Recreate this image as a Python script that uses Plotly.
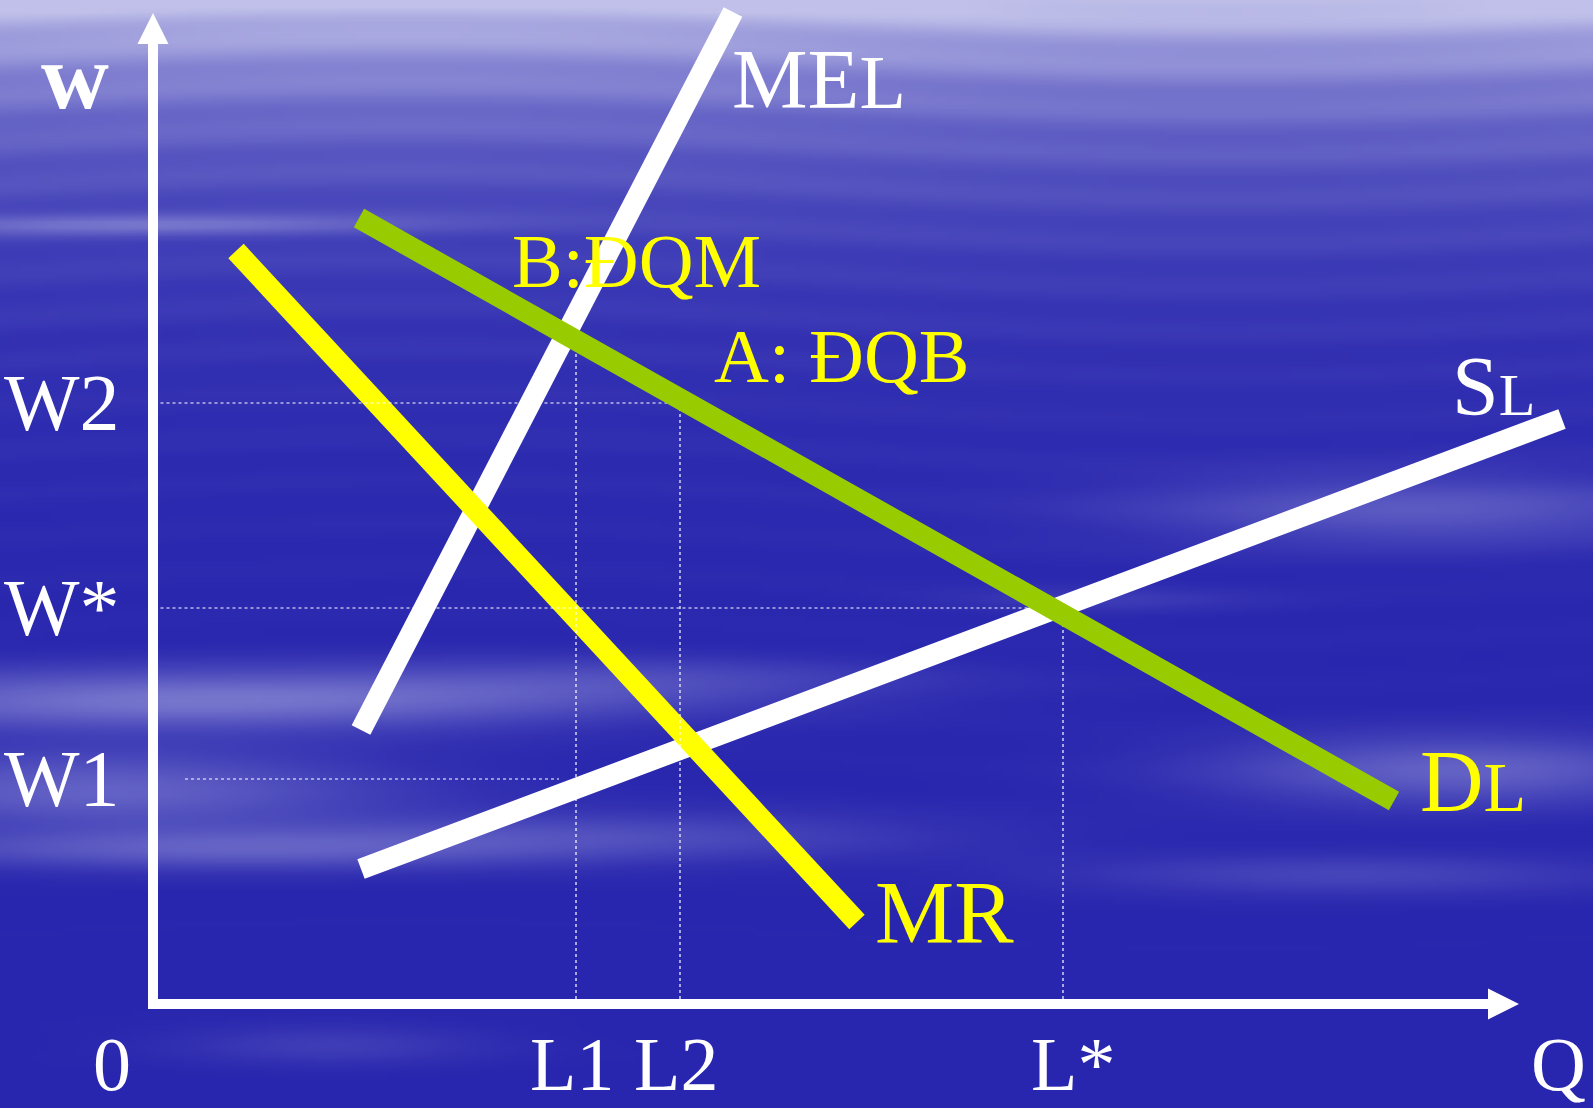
import base64
import math
import struct
import zlib

import plotly.graph_objects as go

# ---------------- data (Q on x, w on y; arbitrary units) ----------------
mel_q = [20.8, 58.0]
mel_w = [27.4, 99.2]
dl_q = [20.6, 124.1]
dl_w = [78.6, 20.3]
mr_q = [8.3, 70.4]
mr_w = [75.3, 8.2]
sl_q = [20.8, 140.9]
sl_w = [13.5, 58.5]

# wage levels and guide extents
w_names = ["W2", "W*", "W1"]
w_levels = [60.1, 39.6, 22.5]
w_guide_from = [0.75, 0.75, 3.2]
w_guide_to = [53.8, 91.0, 40.6]

# employment levels and guide tops
q_names = ["L1", "L2", "L*"]
q_levels = [42.3, 52.7, 91.0]
q_guide_top = [67.7, 60.1, 39.6]

# axis extents (arrow tips)
x_axis_tip = 136.6
y_axis_tip = 99.1

# ---------------- background picture (sky-like gradient) ----------------
W_PX, H_PX = 1593, 1108
base = (40, 38, 174)
light = (192, 192, 234)
clouds = [  # cx, cy, sx, sy, strength (pixels)
    (200, 700, 420, 30, 0.50),
    (100, 790, 280, 40, 0.38),
    (220, 850, 340, 20, 0.32),
    (650, 680, 280, 22, 0.18),
    (600, 835, 340, 25, 0.22),
    (1420, 510, 280, 35, 0.30),
    (1460, 770, 240, 35, 0.38),
    (1350, 875, 280, 20, 0.20),
    (150, 225, 280, 10, 0.30),
    (330, 1045, 160, 20, 0.15),
    (1100, 600, 150, 12, 0.12),
]


def make_bg(w=320, h=222):
    raw = bytearray()
    for j in range(h):
        py = (j + 0.5) / h * H_PX
        raw.append(0)
        top = math.exp(-py / 130.0)
        streak_env = 0.12 * math.exp(-py / 320.0)
        row_clouds = [(cx, sx, a * math.exp(-((py - cy) / sy) ** 2))
                      for (cx, cy, sx, sy, a) in clouds]
        for i in range(w):
            px = (i + 0.5) / w * W_PX
            c = top + streak_env * (0.5 + 0.5 * math.sin(py / 7.0 + 2.0 * math.sin(px / 260.0)))
            for cx, sx, a in row_clouds:
                if a > 1e-4:
                    c += a * math.exp(-((px - cx) / sx) ** 2)
            t = min(1.0, c)
            for k in range(3):
                raw.append(int(base[k] + (light[k] - base[k]) * t))

    def chunk(tag, data):
        return (struct.pack(">I", len(data)) + tag + data
                + struct.pack(">I", zlib.crc32(tag + data) & 0xFFFFFFFF))

    png = (b"\x89PNG\r\n\x1a\n"
           + chunk(b"IHDR", struct.pack(">IIBBBBB", w, h, 8, 2, 0, 0, 0))
           + chunk(b"IDAT", zlib.compress(bytes(raw), 9))
           + chunk(b"IEND", b""))
    return "data:image/png;base64," + base64.b64encode(png).decode()


# ---------------- figure ----------------
WHITE = "#ffffff"
YELLOW = "#ffff00"
GREEN = "#99cc00"
SERIF = "Liberation Serif, Times New Roman, serif"
LW = 21
HEAD = 3.0  # arrow head length in data units

fig = go.Figure()

# axes with arrow heads
fig.add_trace(go.Scatter(x=[0, 0], y=[-0.5, y_axis_tip - HEAD + 0.3], mode="lines",
                         line=dict(color=WHITE, width=10), hoverinfo="skip"))
fig.add_trace(go.Scatter(x=[-0.5, x_axis_tip - HEAD + 0.3], y=[0, 0], mode="lines",
                         line=dict(color=WHITE, width=10), hoverinfo="skip"))
fig.add_trace(go.Scatter(x=[0], y=[y_axis_tip], mode="markers",
                         marker=dict(symbol="arrow-up", size=31, color=WHITE,
                                     line=dict(width=0)), hoverinfo="skip"))
fig.add_trace(go.Scatter(x=[x_axis_tip], y=[0], mode="markers",
                         marker=dict(symbol="arrow-right", size=31, color=WHITE,
                                     line=dict(width=0)), hoverinfo="skip"))

# curves
fig.add_trace(go.Scatter(x=sl_q, y=sl_w, mode="lines",
                         line=dict(color=WHITE, width=LW), hoverinfo="skip"))
fig.add_trace(go.Scatter(x=mel_q, y=mel_w, mode="lines",
                         line=dict(color=WHITE, width=LW), hoverinfo="skip"))
fig.add_trace(go.Scatter(x=mr_q, y=mr_w, mode="lines",
                         line=dict(color=YELLOW, width=LW), hoverinfo="skip"))

# dotted guides
for wl, a, b in zip(w_levels, w_guide_from, w_guide_to):
    fig.add_trace(go.Scatter(x=[a, b], y=[wl, wl], mode="lines",
                             line=dict(color=WHITE, width=1.2, dash="dot"),
                             hoverinfo="skip"))
for ql, top in zip(q_levels, q_guide_top):
    fig.add_trace(go.Scatter(x=[ql, ql], y=[0.5, top], mode="lines",
                             line=dict(color=WHITE, width=1.2, dash="dot"),
                             hoverinfo="skip"))

fig.add_trace(go.Scatter(x=dl_q, y=dl_w, mode="lines",
                         line=dict(color=GREEN, width=LW), hoverinfo="skip"))


def label(text, x, y, color=WHITE, size=80, xanchor="center", bold=False,
          xshift=0, yshift=0):
    fig.add_annotation(x=x, y=y, xref="x", yref="y", text=text,
                       showarrow=False, xanchor=xanchor, yanchor="middle",
                       xshift=xshift, yshift=yshift,
                       font=dict(family=SERIF, size=size, color=color,
                                 weight="bold" if bold else "normal"))


# axis titles
label("w", -7.8, 92.8, size=94, bold=True)
label("Q", 140.5, -6.0, size=76)
label("0", -4.1, -6.0, size=76)

# level labels
for name, wl in zip(w_names, w_levels):
    label(name, -3.1, wl, size=80, xanchor="right")
for name, ql in zip(q_names, q_levels):
    label(name, ql, -6.0, size=76, xshift=(10 if name == "L*" else -4))

# curve labels
label("ME<span style='font-size:76px'>L</span>", 66.6, 92.5, size=85)
label("B:ĐQM", 48.3, 74.3, color=YELLOW, size=76)
label("A: ĐQB", 68.8, 64.8, color=YELLOW, size=76)
label("S<span style='font-size:60px'>L</span>", 134.0, 61.8, size=84)
label("D<span style='font-size:70px'>L</span>", 132.0, 22.3, color=YELLOW, size=88)
label("MR", 79.1, 9.2, color=YELLOW, size=89)

fig.update_layout(
    width=W_PX, height=H_PX,
    margin=dict(l=0, r=0, t=0, b=0),
    paper_bgcolor="rgb(40,38,174)",
    plot_bgcolor="rgba(0,0,0,0)",
    showlegend=False,
    xaxis=dict(range=[-15.3, 144.0], visible=False, fixedrange=True),
    yaxis=dict(range=[-10.4, 100.4], visible=False, fixedrange=True),
    images=[dict(source=make_bg(), xref="paper", yref="paper", x=0, y=1,
                 sizex=1, sizey=1, sizing="stretch", layer="below",
                 xanchor="left", yanchor="top")],
)

fig.write_html("out.html", config={"displayModeBar": False},
               post_script="document.body.style.margin='0';")
